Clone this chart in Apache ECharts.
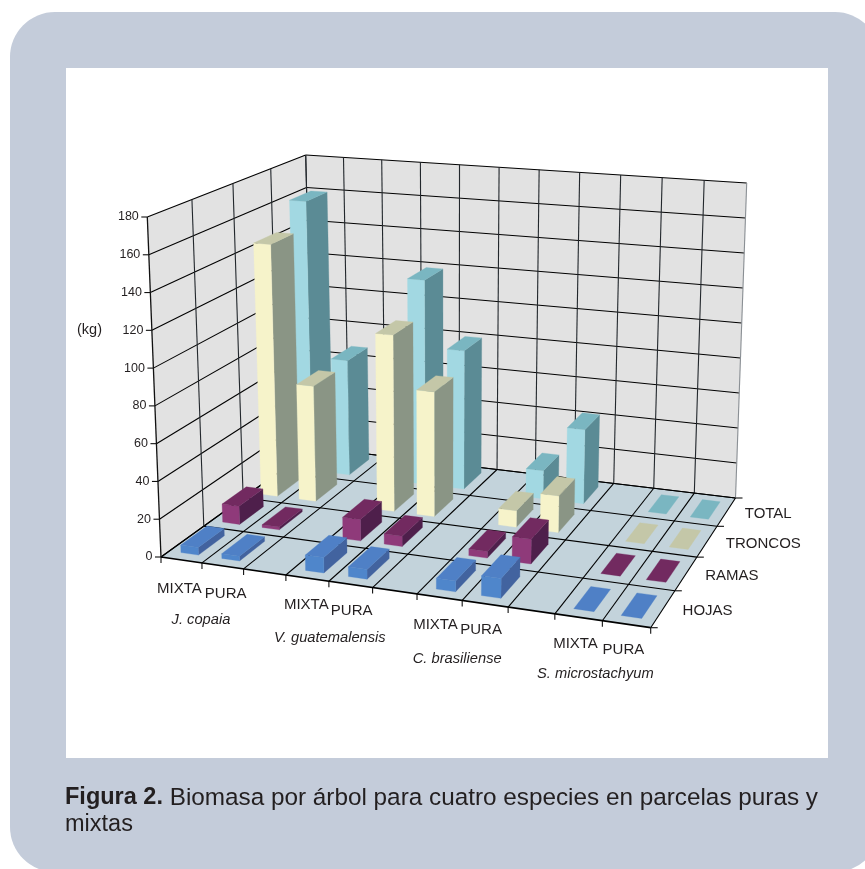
<!DOCTYPE html>
<html><head><meta charset="utf-8">
<style>html,body{margin:0;padding:0;background:#fff}#c{width:865px;height:869px}</style>
<script src="https://cdn.jsdelivr.net/npm/echarts@6/dist/echarts.min.js"></script>
</head><body><div id="c"></div>
<script>
// ---- data ----
const columns = ['MIXTA','PURA','','MIXTA','PURA','','MIXTA','PURA','','MIXTA','PURA'];
const species = ['J. copaia','V. guatemalensis','C. brasiliense','S. microstachyum'];
const rows = ['HOJAS','RAMAS','TRONCOS','TOTAL'];
const barColumns = [0,1,3,4,6,7,9,10];
const hojas   = [4,2.5,8,5,5.5,10,0,0];
const ramas   = [10,1.5,11.5,5.5,3.5,13,0,0];
const troncos = [144.5,65.5,99,69.5,9,20,0,0];
const total   = [160,67.5,119,80,16,42,0,0];
const yTicks  = [0,20,40,60,80,100,120,140,160,180];
const captionBold = 'Figura 2.';
const captionText = ' Biomasa por árbol para cuatro especies en parcelas puras y';
const captionLine2 = 'mixtas';

// ---- view: perspective frame (box corners on screen) ----
const floorA=[161,557], floorB=[650.7,627.7], floorC=[735.5,498], floorD=[313,447.5];
const topA=[147.3,217], topD=[305.7,155], topC=[746.7,183];
const G={left:161,top:217,width:490,height:340};
const columnLabelShift=[[-1,1],[1,0],0,[0,-1],[-1,-1],0,[-3,0],[-6,-1],0,[-2,-1],[-5,-2]];
const speciesLabelShift=[[0,1],[2,1],[-4,2],[-6,-3]];
const faces=[
 {front:'#4f86cb',side:'#42639f',top:'#4f80c6'},
 {front:'#8f3a7a',side:'#4e1f4b',top:'#722a60'},
 {front:'#f6f3ca',side:'#8a9585',top:'#c4c7a8'},
 {front:'#a2d8e2',side:'#5b8b95',top:'#7ab6c1'}
];
const FONT='"Liberation Sans",Arial,sans-serif', INK='#231f20';

function solve(M,b){const n=b.length,a=M.map((r,i)=>r.concat(b[i]));
 for(let i=0;i<n;i++){let p=i;for(let k=i+1;k<n;k++)if(Math.abs(a[k][i])>Math.abs(a[p][i]))p=k;
  [a[i],a[p]]=[a[p],a[i]];
  for(let k=0;k<n;k++)if(k!==i){const f=a[k][i]/a[i][i];for(let j=i;j<=n;j++)a[k][j]-=f*a[i][j];}}
 return a.map((r,i)=>r[n]/r[i]);}
function homography(dst){const src=[[0,0],[1,0],[1,1],[0,1]],M=[],b=[];
 src.forEach((s,i)=>{const d=dst[i];
  M.push([s[0],s[1],1,0,0,0,-s[0]*d[0],-s[1]*d[0]]);b.push(d[0]);
  M.push([0,0,0,s[0],s[1],1,-s[0]*d[1],-s[1]*d[1]]);b.push(d[1]);});
 return solve(M,b);}
function applyH(H,u,v){const w=H[6]*u+H[7]*v+1;return [(H[0]*u+H[1]*v+H[2])/w,(H[3]*u+H[4]*v+H[5])/w];}
const HF=homography([floorA,floorB,floorC,floorD]);
// hidden front-right top corner, from the vanishing point of the upright edges and the floor's depth scale
const topB=(function(){
 const w=HF[6]+1, hA=floorA[1]-topA[1];
 const sl=(floorA[0]-topA[0])/hA, sr=(floorC[0]-topC[0])/(floorC[1]-topC[1]);
 const vy=(floorC[0]-floorA[0]+sl*floorA[1]-sr*floorC[1])/(sl-sr), vx=floorA[0]+sl*(vy-floorA[1]);
 const h=hA/w, y=floorB[1]-h; return [floorB[0]+(vx-floorB[0])/(vy-floorB[1])*(y-floorB[1]),y];
})();
const HT=homography([topA,topB,topC,topD]);
function proj(u,v,h){const a=applyH(HF,u,v),b=applyH(HT,u,v);return [a[0]+(b[0]-a[0])*h,a[1]+(b[1]-a[1])*h];}

function line(a,b,color,width){return {type:'line',shape:{x1:a[0],y1:a[1],x2:b[0],y2:b[1]},style:{stroke:color,lineWidth:width}};}
function poly(pts,fill){return {type:'polygon',shape:{points:pts},style:{fill:fill,stroke:fill,lineWidth:0.3}};}
function label(text,x,y,align,size,italic){return {type:'text',style:{text:text,x:x,y:y,align:align,verticalAlign:'middle',fill:INK,font:(italic?'italic ':'')+size+'px '+FONT}};}

function renderFrame(params,api){
 const ch=[],nU=columns.length,nV=rows.length;
 const hOf=t=>(api.coord([0,0])[1]-api.coord([0,t])[1])/G.height;
 ch.push(poly([proj(0,0,0),proj(0,1,0),proj(0,1,1),proj(0,0,1)],'#e2e2e2'));
 ch.push(poly([proj(0,1,0),proj(1,1,0),proj(1,1,1),proj(0,1,1)],'#e2e2e2'));
 ch.push(poly([proj(0,0,0),proj(1,0,0),proj(1,1,0),proj(0,1,0)],'#c3d3db'));
 yTicks.forEach(t=>{const h=hOf(t);
  ch.push(line(proj(0,0,h),proj(0,1,h),'#000',1.1));
  ch.push(line(proj(0,1,h),proj(1,1,h),'#000',1.1));
  const e=proj(0,0,h);
  ch.push(line(e,[e[0]-6,e[1]],'#111',1.1));
  ch.push(label(String(t),e[0]-8.5,e[1],'right',12.5));
 });
 for(let i=0;i<=nU;i++){const u=i/nU;
  ch.push(line(proj(u,0,0),proj(u,1,0),'#000',1.1));
  ch.push(line(proj(u,1,0),proj(u,1,1),i===nU?'#8a8f94':'#22272c',1.1));
  const e=proj(u,0,0);ch.push(line(e,[e[0],e[1]+6],'#111',1.1));
 }
 for(let j=0;j<=nV;j++){const v=j/nV;
  ch.push(line(proj(0,v,0),proj(1,v,0),'#000',j===0?1.7:1.1));
  ch.push(line(proj(0,v,0),proj(0,v,1),j===0?'#111':'#22272c',j===0?1.3:1.1));
  const e=proj(1,v,0);ch.push(line(e,[e[0]+7,e[1]],'#111',1.1));
 }
 columns.forEach((name,i)=>{if(!name)return;const p=proj((i+.5)/nU,0,0),d=columnLabelShift[i];
  ch.push(label(name,p[0]+(name==='PURA'?2:-1)+d[0],p[1]+27.5+d[1],'center',15));});
 species.forEach((name,i)=>{const p=proj((3*i+1)/nU,0,0),d=speciesLabelShift[i];
  ch.push(label(name,p[0]-1+d[0],p[1]+56+d[1],'center',14.7,true));});
 rows.forEach((name,j)=>{const p=proj(1.02,(j+.5)/nV,0);
  ch.push(label(name,p[0]+9,p[1]+1,'left',15));});
 ch.push(label('(kg)',77,330,'left',14.5));
 return {type:'group',children:ch};
}
const barU=0.43, barV=0.62;
function renderBar(row){return function(params,api){
 const c=api.value(0),val=api.value(1),o=api.coord([c,0]),s=api.size([1,0])[0];
 const uc=(o[0]-G.left)/G.width,du=barU*s/G.width/2;
 const h=(o[1]-api.coord([c,val])[1])/G.height,n=rows.length;
 const v0=(row+(1-barV)/2)/n,v1=(row+(1+barV)/2)/n,u0=uc-du,u1=uc+du,f=faces[row],ch=[];
 if(val>0){
  ch.push(poly([proj(u1,v0,0),proj(u1,v1,0),proj(u1,v1,h),proj(u1,v0,h)],f.side));
  ch.push(poly([proj(u0,v0,0),proj(u1,v0,0),proj(u1,v0,h),proj(u0,v0,h)],f.front));
 }
 ch.push(poly([proj(u0,v0,h),proj(u1,v0,h),proj(u1,v1,h),proj(u0,v1,h)],f.top));
 return {type:'group',children:ch};
};}
const rowValues=[hojas,ramas,troncos,total];
const barSeries=[3,2,1,0].map((row,i)=>({
 name:rows[row],type:'custom',coordinateSystem:'cartesian2d',z:3+i,clip:false,
 renderItem:renderBar(row),encode:{x:0,y:1},
 data:barColumns.map((c,k)=>[c,rowValues[row][k]]),animation:false,silent:true
}));
const chart=echarts.init(document.getElementById('c'),null,{renderer:'canvas'});
chart.setOption({
 animation:false,backgroundColor:'#ffffff',
 tooltip:{show:false},
 grid:{left:G.left,top:G.top,width:G.width,height:G.height,show:false},
 xAxis:{type:'category',data:columns.map((n,i)=>i),show:false,boundaryGap:true},
 yAxis:{type:'value',min:0,max:180,interval:20,show:false},
 graphic:[
  {type:'rect',z:-10,shape:{x:10,y:12,width:870,height:860,r:45},style:{fill:'#c4ccda'}},
  {type:'rect',z:-9,shape:{x:66,y:68,width:762,height:690},style:{fill:'#ffffff'}},
  {type:'text',z:10,x:65,y:798,style:{text:'{b|'+captionBold+'}'+captionText,rich:{b:{font:'bold 23.5px '+FONT,fill:INK}},font:'24.3px '+FONT,fill:INK,verticalAlign:'middle'}},
  {type:'text',z:10,x:65,y:825,style:{text:captionLine2,font:'23.5px '+FONT,fill:INK,verticalAlign:'middle'}}
 ],
 series:[{type:'custom',coordinateSystem:'cartesian2d',z:2,clip:false,silent:true,renderItem:renderFrame,encode:{x:0,y:1},data:[[0,0]],animation:false}].concat(barSeries)
});
</script></body></html>
